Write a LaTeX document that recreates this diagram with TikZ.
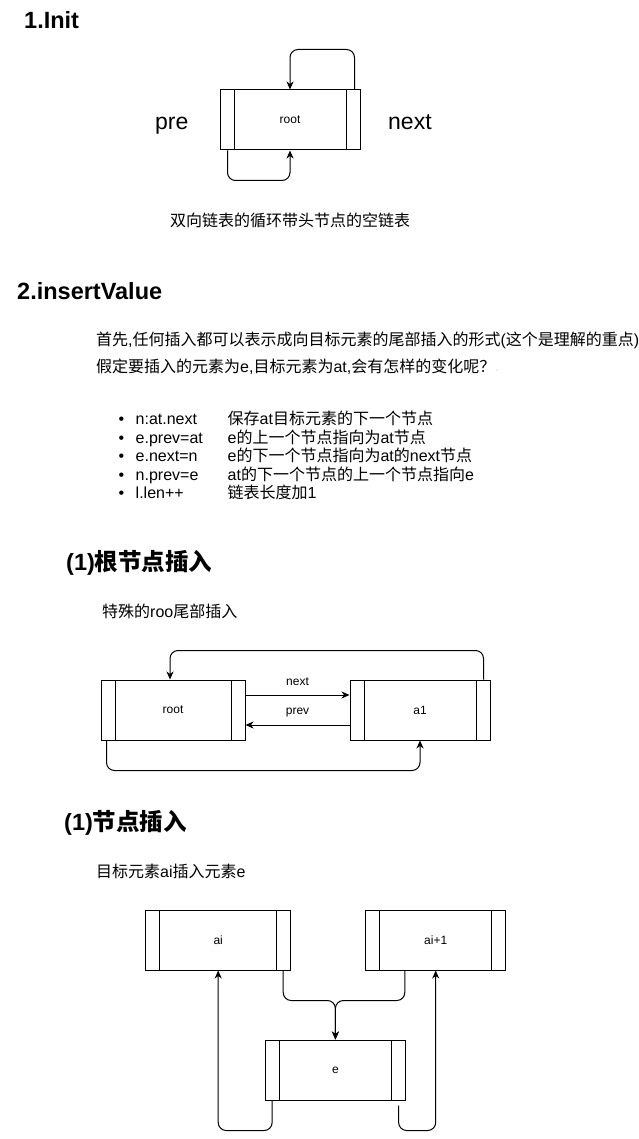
\documentclass[tikz,border=0pt]{standalone}
\usepackage{fontspec}
\setmainfont{Liberation Sans}
\newfontfamily\cjk{Noto Sans CJK SC}
\usetikzlibrary{arrows.meta,calc}
\newcommand\C[1]{{\cjk #1}}
\tikzset{
  procbox/.style={draw, line width=1pt, minimum width=#1, minimum height=60pt, inner sep=0pt,
    font=\fontsize{12}{14}\selectfont,
    path picture={
      \draw[line width=1pt] ([xshift=14pt]path picture bounding box.north west) -- ([xshift=14pt]path picture bounding box.south west);
      \draw[line width=1pt] ([xshift=-14pt]path picture bounding box.north east) -- ([xshift=-14pt]path picture bounding box.south east);
    }},
  procbox/.default=140pt,
  body/.style={anchor=base west, inner sep=0pt, font=\fontsize{16}{19}\selectfont},
  head/.style={anchor=base west, inner sep=0pt, font=\fontsize{23.5}{28}\selectfont\bfseries},
  big/.style={anchor=base west, inner sep=0pt, font=\fontsize{23}{27}\selectfont},
  small/.style={inner sep=0pt, font=\fontsize{12}{14}\selectfont},
  arr/.style={line width=1pt, -{Stealth[length=8pt,width=7pt,inset=2.5pt]}, rounded corners=8pt},
}
\begin{document}
\begin{tikzpicture}[x=1pt,y=-1pt]
\fill[white] (0,0) rectangle (638,1139);
\useasboundingbox (0,0) rectangle (638,1139);

% ---------- 1. Init ----------
\node[head] (h1) at (24,28.4) {1.Init};
\node[procbox] (r0) at (290,120) {\raisebox{-1pt}{root}};
\node[big] (pre) at (155,129.5) {pre};
\node[big] (nxt) at (388,129.5) {next};
\draw[arr] ($(r0.north east)+(-6,0)$) -- ++(0,-40) -| (r0.north);
\draw[arr] ($(r0.south west)+(8,0)$) -- ++(0,30) -| (r0.south);
\node[body] (cap1) at (170,226.5) {\C{双向链表的循环带头节点的空链表}};

% ---------- 2. insertValue ----------
\node[head] (h2) at (17,299.4) {2.insertValue};
\node[body] (p1) at (96,345.5) {\C{首先},\C{任何插入都可以表示成向目标元素的尾部插入的形式}(\C{这个是理解的重点})};
\node[body] (p2) at (96,372.5) {\C{假定要插入的元素为}e,\C{目标元素为}at,\C{会有怎样的变化呢？}};
\fill[gray!60] (497,370) circle (0.7);

\foreach \yy/\t/\d [count=\i] in {424.5/{n:at.next}/{\C{保存}at\C{目标元素的下一个节点}},
    443/{e.prev=at}/{e\C{的上一个节点指向为}at\C{节点}},
    461.5/{e.next=n}/{e\C{的下一个节点指向为}at\C{的}next\C{节点}},
    480/{n.prev=e}/{at\C{的下一个节点的上一个节点指向}e},
    498.5/{l.len++}/{\C{链表长度加}1}}{
  \node[body] (b\i) at (118.5,\yy) {•};
  \node[body] (t\i) at (135.5,\yy) {\t};
  \node[body] (d\i) at (227.5,\yy) {\d};
}

% ---------- (1) root insert ----------
\node[head] (h3) at (66,570) {(1)\C{根节点插入}};
\node[body] (cap2) at (102,617.5) {\C{特殊的}roo\C{尾部插入}};
\node[procbox=144pt] (rt) at (173,710) {\raisebox{-1pt}{root}};
\node[procbox] (a1) at (420,710) {\raisebox{-1pt}{a1}};
\draw[arr, rounded corners=0pt] ($(rt.east)+(0,-15)$) -- node[small, midway, yshift=13pt] (lnext) {next} ($(a1.west)+(0,-15)$);
\draw[arr, rounded corners=0pt] ($(a1.west)+(0,15)$) -- node[small, midway, yshift=12pt] (lprev) {prev} ($(rt.east)+(0,15)$);
\draw[arr] ($(a1.north east)+(-7,0)$) -- ++(0,-29) -| ($(rt.north)+(-3,0)$);
\draw[arr] ($(rt.south west)+(6,0)$) -- ++(0,30) -| (a1.south);

% ---------- (1) node insert ----------
\node[head] (h4) at (64,830) {(1)\C{节点插入}};
\node[body] (cap3) at (96,877.5) {\C{目标元素}ai\C{插入元素}e};
\node[procbox=145pt] (ai) at (218.2,940) {ai};
\node[procbox] (ai1) at (435.7,940) {ai+1};
\node[procbox=139.5pt] (e) at (335.4,1070) {e};
\draw[arr] ($(ai.south east)+(-8,0)$) -- ++(0,30) -| (e.north);
\draw[arr] ($(ai1.south west)+(39.6,0)$) -- ++(0,30) -| (e.north);
\draw[arr] ($(e.south west)+(7,0)$) -- ++(0,30) -| (ai.south);
\draw[arr] ($(e.south east)+(-7,5)$) -- ++(0,25) -| (ai1.south);
\end{tikzpicture}
\end{document}
